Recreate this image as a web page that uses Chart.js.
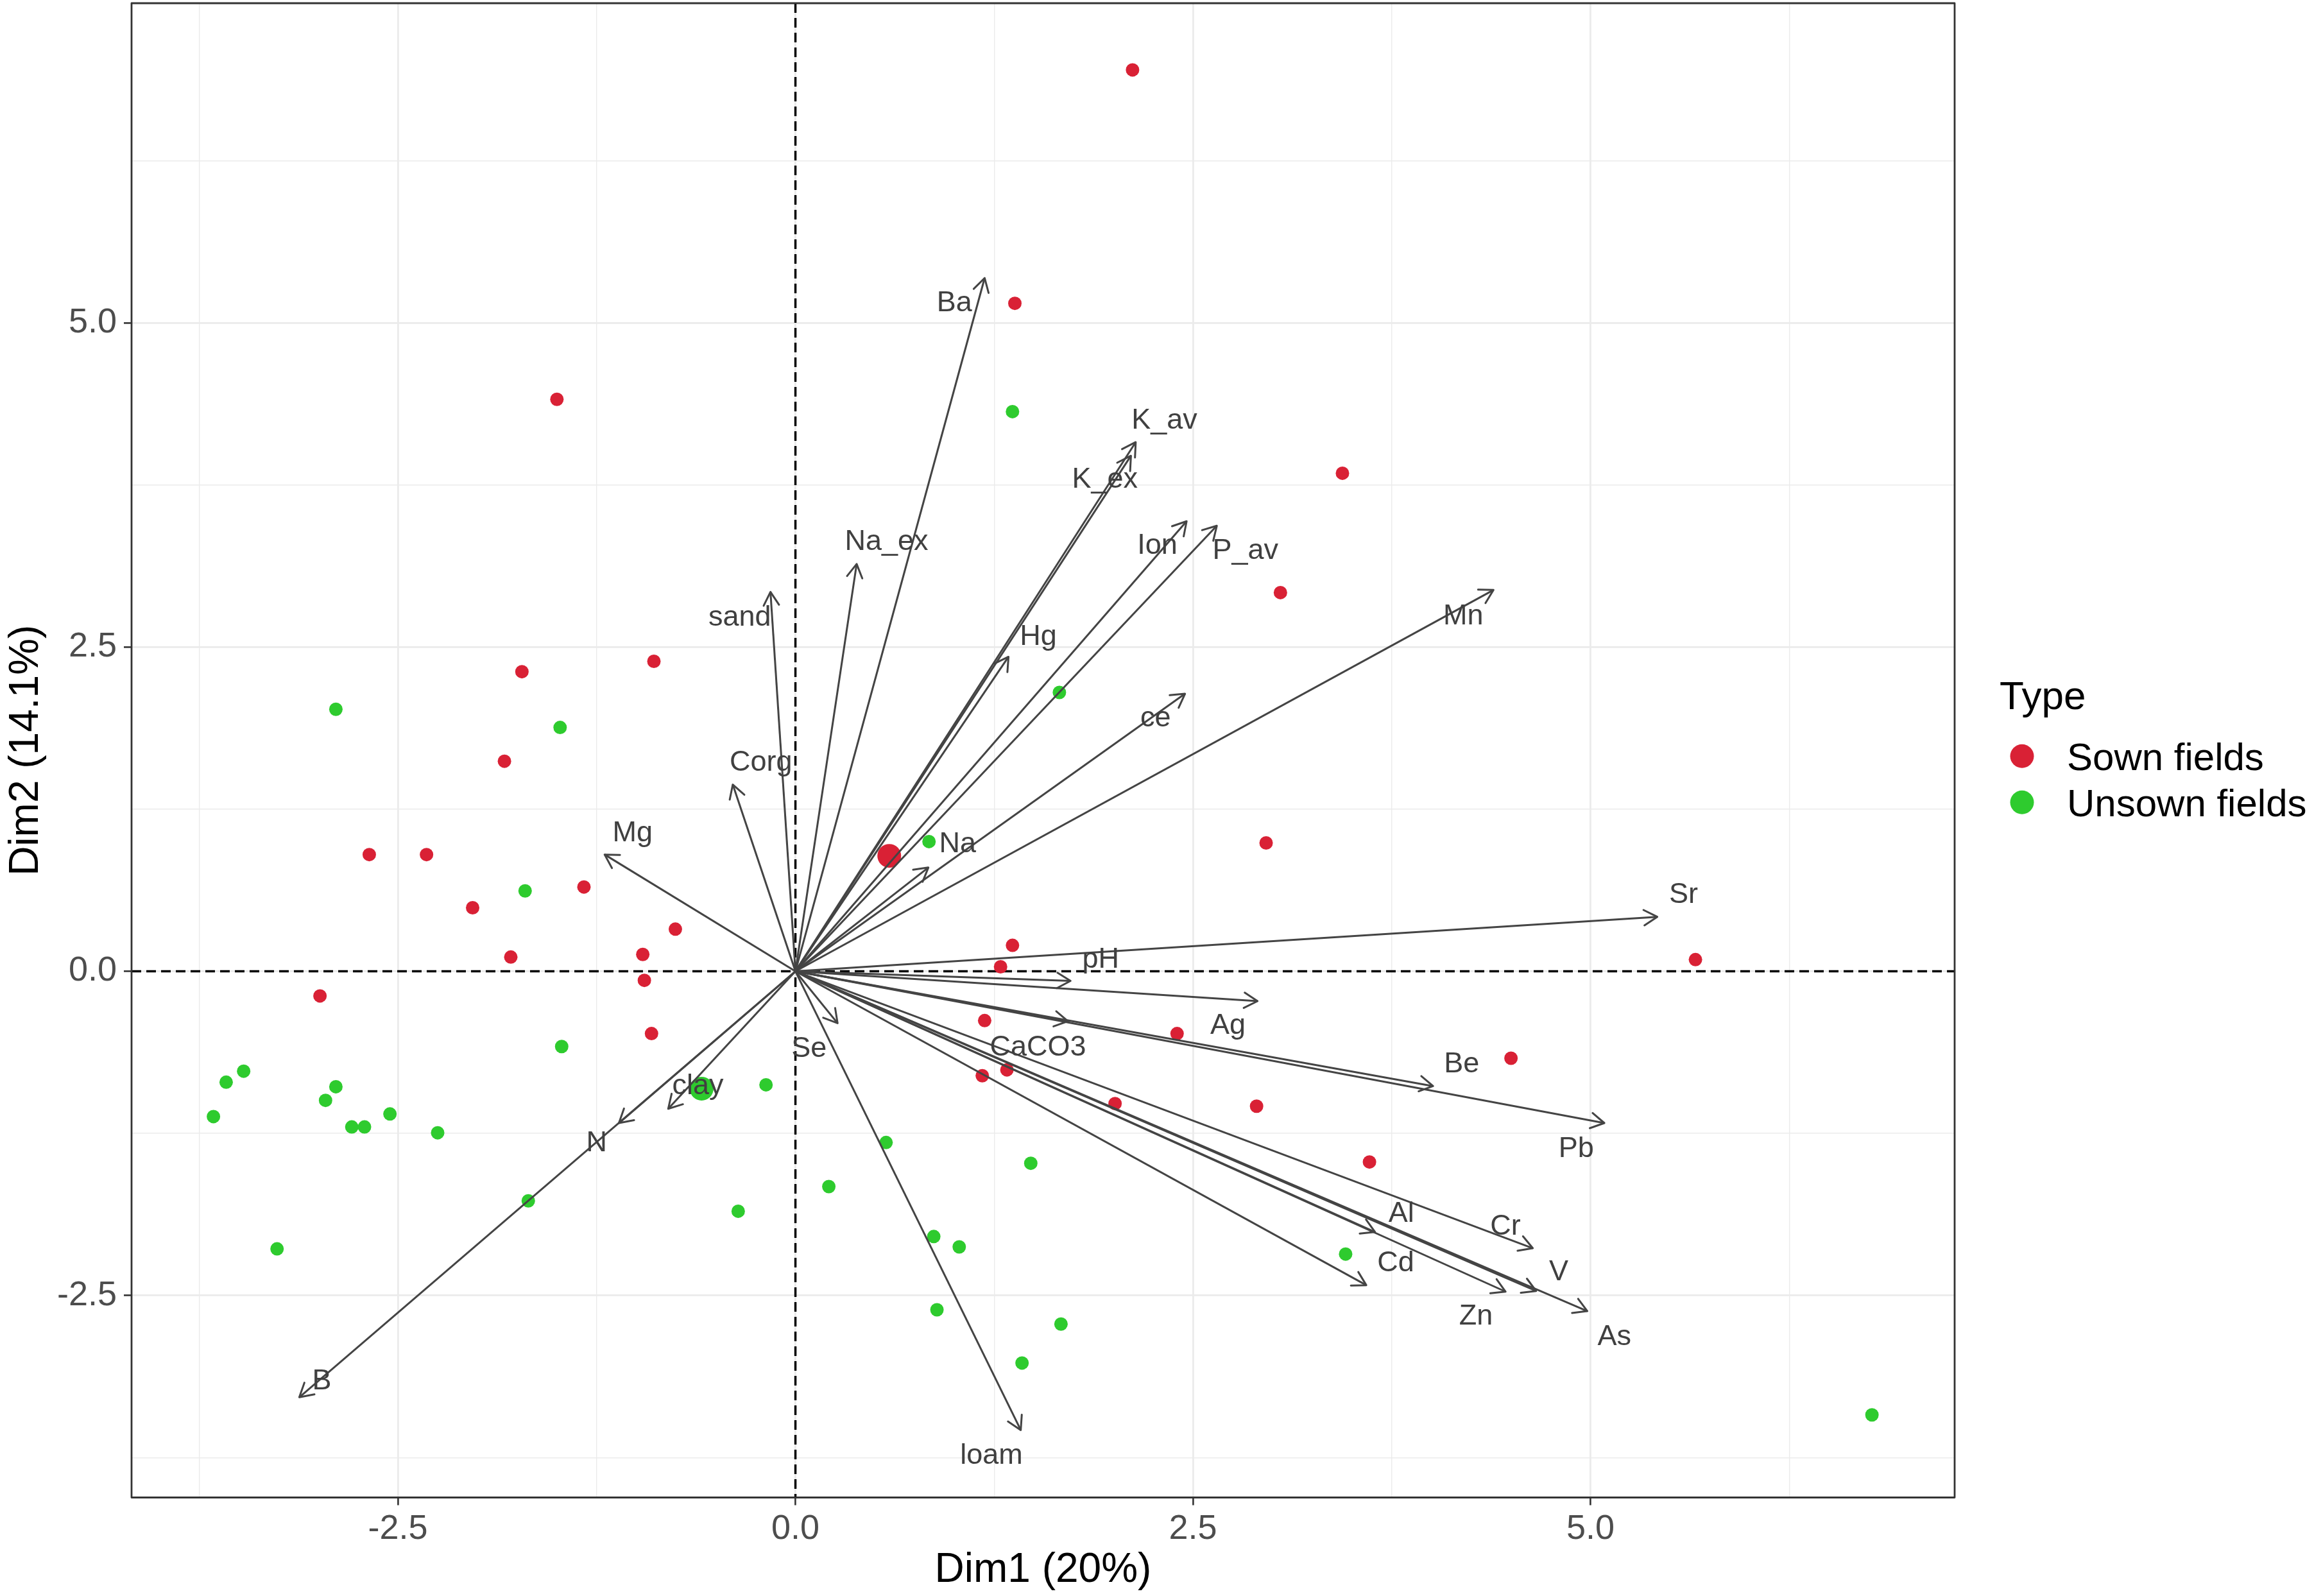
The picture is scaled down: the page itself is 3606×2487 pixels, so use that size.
<!DOCTYPE html>
<html><head><meta charset="utf-8">
<script src="https://cdn.jsdelivr.net/npm/chart.js@4.4.1/dist/chart.umd.min.js"></script>
<style>html,body{margin:0;padding:0;background:#fff;}#c{display:block;}</style>
</head><body>
<canvas id="c" width="3606" height="2487" style="width:3606px;height:2487px"></canvas>
<script>
// ---------------- data ----------------
const xAxisTitle = 'Dim1 (20%)';
const yAxisTitle = 'Dim2 (14.1%)';
const legendTitle = 'Type';
const groupNames = ['Sown fields', 'Unsown fields'];

const sownX = [2.12, 1.38, -1.50, 3.44, 3.05, -0.89, -1.72, -1.83, -2.68, -2.32, -1.33, -2.03, -0.755, -0.96, -1.79, -0.95, -2.99, -0.905, 2.96, 1.365, 1.29, 5.66, 1.19, 2.40, 4.50, 1.175, 1.33, 2.01, 2.90, 3.61];
const sownY = [6.95, 5.15, 4.41, 3.84, 2.92, 2.39, 2.31, 1.62, 0.90, 0.90, 0.65, 0.49, 0.325, 0.13, 0.11, -0.07, -0.19, -0.48, 0.99, 0.20, 0.035, 0.09, -0.38, -0.48, -0.67, -0.805, -0.76, -1.02, -1.04, -1.47];

const unsownX = [1.365, 1.66, -2.89, -1.48, -1.70, 0.84, -1.47, -3.47, -3.58, -2.89, -2.955, -3.66, -2.55, -2.79, -2.71, -2.25, -0.185, 0.57, -1.68, -0.36, 0.21, 1.48, 0.87, 1.03, 3.46, -3.26, 0.89, 1.67, 1.425, 6.77];
const unsownY = [4.315, 2.15, 2.02, 1.88, 0.62, 1.00, -0.58, -0.77, -0.855, -0.89, -0.995, -1.12, -1.10, -1.20, -1.20, -1.245, -0.875, -1.32, -1.77, -1.85, -1.66, -1.48, -2.045, -2.125, -2.18, -2.14, -2.61, -2.72, -3.02, -3.42];

const groupMeanX = [0.59, -0.59];
const groupMeanY = [0.89, -0.905];

const varNames = ['Ba','K_av','K_ex','Ion','P_av','Na_ex','sand','Mn','Hg','ce','Corg','Mg','Na','Sr','pH','Ag','Be','Pb','Se','CaCO3','Al','Cr','Cd','Zn','V','As','loam','clay','N','B'];
const varX = [1.19, 2.14, 2.11, 2.46, 2.65, 0.385, -0.157, 4.39, 1.34, 2.45, -0.394, -1.20, 0.836, 5.42, 1.73, 2.906, 4.01, 5.087, 0.265, 1.714, 3.645, 4.637, 3.59, 4.466, 4.658, 4.98, 1.417, -0.80, -1.11, -3.12];
const varY = [5.345, 4.08, 3.975, 3.47, 3.435, 3.14, 2.925, 2.94, 2.425, 2.14, 1.44, 0.90, 0.80, 0.42, -0.074, -0.23, -0.885, -1.17, -0.40, -0.385, -2.01, -2.135, -2.42, -2.47, -2.465, -2.62, -3.537, -1.06, -1.17, -3.284];
const varLabelX = [1.00, 2.32, 1.946, 2.276, 2.83, 0.573, -0.35, 4.20, 1.527, 2.265, -0.217, -1.024, 1.02, 5.585, 1.92, 2.72, 4.19, 4.91, 0.086, 1.525, 3.81, 4.465, 3.775, 4.28, 4.80, 5.15, 1.233, -0.614, -1.25, -2.978];
const varLabelY = [5.15, 4.245, 3.79, 3.28, 3.24, 3.31, 2.725, 2.736, 2.58, 1.947, 1.61, 1.064, 0.98, 0.59, 0.09, -0.42, -0.72, -1.37, -0.597, -0.59, -1.87, -1.97, -2.25, -2.66, -2.32, -2.82, -3.736, -0.884, -1.327, -3.161];

const xMajorTicks = [-2.5, 0, 2.5, 5];
const xTickLabels = ['-2.5', '0.0', '2.5', '5.0'];
const xMinorTicks = [-3.75, -1.25, 1.25, 3.75, 6.25];
const yMajorTicks = [-2.5, 0, 2.5, 5];
const yTickLabels = ['-2.5', '0.0', '2.5', '5.0'];
const yMinorTicks = [-3.75, -1.25, 1.25, 3.75, 6.25];
const xRange = [-4.175, 7.29];
const yRange = [-4.057, 7.464];

// ---------------- style ----------------
const FONT = "'Liberation Sans', Arial, Helvetica, sans-serif";
const RED = '#D92135';
const GREEN = '#2ECB2E';
const ARROW = '#444444';
const groupColors = [RED, GREEN];

const datasets = [];
varNames.forEach((n, i) => {
  datasets.push({
    label: n, showLine: true, isArrow: true,
    data: [{x: 0, y: 0}, {x: varX[i], y: varY[i]}],
    borderColor: ARROW, borderWidth: 3, pointRadius: 0, fill: false, order: 0
  });
});
datasets.push({label: groupNames[0] + ' mean', data: [{x: groupMeanX[0], y: groupMeanY[0]}], backgroundColor: RED, borderWidth: 0, pointRadius: 18.5, order: 1});
datasets.push({label: groupNames[1] + ' mean', data: [{x: groupMeanX[1], y: groupMeanY[1]}], backgroundColor: GREEN, borderWidth: 0, pointRadius: 18.5, order: 1});
datasets.push({label: groupNames[0], data: sownX.map((x, i) => ({x, y: sownY[i]})), backgroundColor: RED, borderWidth: 0, pointRadius: 10.5, order: 2});
datasets.push({label: groupNames[1], data: unsownX.map((x, i) => ({x, y: unsownY[i]})), backgroundColor: GREEN, borderWidth: 0, pointRadius: 10.5, order: 2});

const isMajor = (list, v) => list.some(m => Math.abs(m - v) < 1e-9);

const biplot = {
  id: 'biplot',
  beforeDatasetsDraw(chart) {
    const {ctx, chartArea: a, scales: {x, y}} = chart;
    ctx.save();
    ctx.beginPath(); ctx.rect(a.left, a.top, a.width, a.height); ctx.clip();
    ctx.strokeStyle = '#000'; ctx.lineWidth = 3.5; ctx.setLineDash([15, 8]);
    const x0 = x.getPixelForValue(0), y0 = y.getPixelForValue(0);
    ctx.beginPath();
    ctx.moveTo(a.left, y0); ctx.lineTo(a.right, y0);
    ctx.moveTo(x0, a.top); ctx.lineTo(x0, a.bottom);
    ctx.stroke();
    ctx.restore();
  },
  afterDatasetsDraw(chart) {
    const {ctx, chartArea: a, scales: {x, y}} = chart;
    ctx.save();
    // arrowheads
    ctx.strokeStyle = ARROW; ctx.lineWidth = 3; ctx.lineCap = 'round'; ctx.lineJoin = 'round';
    const ox = x.getPixelForValue(0), oy = y.getPixelForValue(0);
    const L = 24, ang = Math.PI / 6;
    varNames.forEach((n, i) => {
      const tx = x.getPixelForValue(varX[i]), ty = y.getPixelForValue(varY[i]);
      const th = Math.atan2(ty - oy, tx - ox);
      ctx.beginPath();
      ctx.moveTo(tx - L * Math.cos(th - ang), ty - L * Math.sin(th - ang));
      ctx.lineTo(tx, ty);
      ctx.lineTo(tx - L * Math.cos(th + ang), ty - L * Math.sin(th + ang));
      ctx.stroke();
    });
    // labels
    ctx.fillStyle = '#404040';
    ctx.font = '45px ' + FONT;
    ctx.textAlign = 'center'; ctx.textBaseline = 'middle';
    varNames.forEach((n, i) => {
      ctx.fillText(n, x.getPixelForValue(varLabelX[i]), y.getPixelForValue(varLabelY[i]));
    });
    // panel border
    ctx.strokeStyle = '#333333'; ctx.lineWidth = 2.8; ctx.lineCap = 'butt';
    ctx.strokeRect(a.left, a.top, a.width, a.height);
    ctx.restore();
  },
  afterDraw(chart) {
    const {ctx, chartArea: a} = chart;
    const cy = (a.top + a.bottom) / 2;
    ctx.save();
    ctx.fillStyle = '#000';
    ctx.textAlign = 'left'; ctx.textBaseline = 'alphabetic';
    ctx.font = '62px ' + FONT;
    ctx.fillText(legendTitle, a.right + 70, cy - 64);
    ctx.font = '60px ' + FONT;
    const rows = [cy + 9, cy + 81];
    groupNames.forEach((g, i) => {
      ctx.fillStyle = groupColors[i];
      ctx.beginPath(); ctx.arc(a.right + 105, rows[i], 18.5, 0, Math.PI * 2); ctx.fill();
      ctx.fillStyle = '#000';
      ctx.fillText(g, a.right + 175, rows[i] + 22);
    });
    ctx.restore();
  }
};

const gridCommon = (majors) => ({
  color: '#EBEBEB',
  lineWidth: (c) => (c.tick && isMajor(majors, c.tick.value)) ? 2.8 : 1.4,
  drawTicks: true,
  tickLength: 12,
  tickWidth: 2.6,
  tickColor: (c) => (c.tick && isMajor(majors, c.tick.value)) ? '#333333' : 'rgba(0,0,0,0)'
});

const noPad = (s) => { s.paddingTop = 0; s.paddingBottom = 0; s.paddingLeft = 0; s.paddingRight = 0; };

new Chart(document.getElementById('c'), {
  type: 'scatter',
  data: {datasets},
  plugins: [biplot],
  options: {
    responsive: false, animation: false, devicePixelRatio: 1, events: [],
    layout: {autoPadding: false, padding: {left: 0, top: 5, right: 560, bottom: 0}},
    plugins: {legend: {display: false}, tooltip: {enabled: false}},
    scales: {
      x: {
        type: 'linear', min: xRange[0], max: xRange[1],
        afterBuildTicks: (s) => { s.ticks = [...xMajorTicks, ...xMinorTicks].sort((p, q) => p - q).map(v => ({value: v})); },
        afterFit: (s) => { s.height = 153.5; noPad(s); },
        grid: gridCommon(xMajorTicks),
        border: {display: false},
        ticks: {
          autoSkip: false, maxRotation: 0, padding: 5, color: '#4D4D4D',
          font: {family: FONT, size: 54},
          callback: (v) => { const k = xMajorTicks.findIndex(m => Math.abs(m - v) < 1e-9); return k >= 0 ? xTickLabels[k] : ''; }
        },
        title: {display: true, text: xAxisTitle, color: '#000', font: {family: FONT, size: 64}, padding: {top: 0, bottom: 1}}
      },
      y: {
        type: 'linear', min: yRange[0], max: yRange[1],
        afterBuildTicks: (s) => { s.ticks = [...yMajorTicks, ...yMinorTicks].sort((p, q) => p - q).map(v => ({value: v})); },
        afterFit: (s) => { s.width = 205; noPad(s); },
        grid: gridCommon(yMajorTicks),
        border: {display: false},
        ticks: {
          autoSkip: false, padding: 11, color: '#4D4D4D',
          font: {family: FONT, size: 54},
          callback: (v) => { const k = yMajorTicks.findIndex(m => Math.abs(m - v) < 1e-9); return k >= 0 ? yTickLabels[k] : ''; }
        },
        title: {display: true, text: yAxisTitle, color: '#000', font: {family: FONT, size: 64}, padding: {top: 3, bottom: 0}}
      }
    }
  }
});
</script>
</body></html>
